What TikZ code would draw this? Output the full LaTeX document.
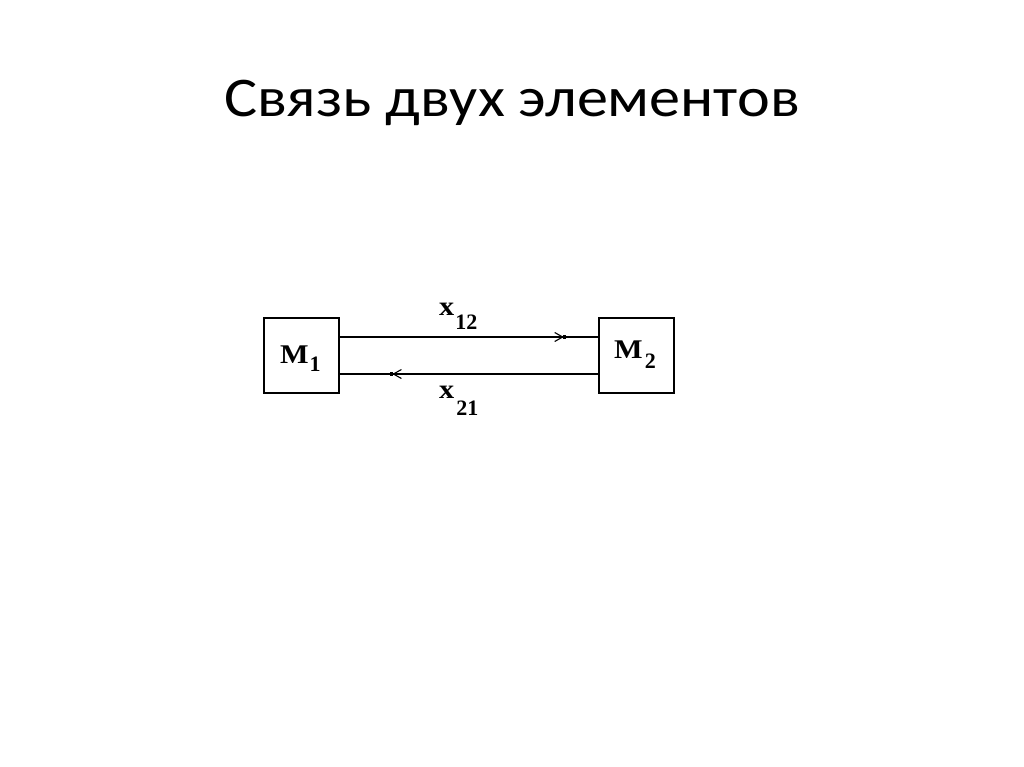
\documentclass[tikz,border=0pt]{standalone}
\usepackage{fontspec}
\usepackage{graphicx}
\setmainfont{Liberation Serif}
\newfontfamily\titlefont{Carlito}
\usetikzlibrary{arrows.meta,decorations.markings}
\newcommand{\mainlet}[1]{\scalebox{1.12}[1]{\fontsize{27}{28}\selectfont\bfseries #1}}
\newcommand{\sublet}[2]{\raisebox{-#1pt}{\fontsize{22}{22}\selectfont\bfseries #2}}
\begin{document}
\begin{tikzpicture}[x=1pt,y=-1pt,
  blk/.style={draw,line width=1.4pt,minimum width=75pt,minimum height=75pt,inner sep=0pt},
  lbl/.style={inner sep=0pt},
  flow/.style={line width=1.4pt,
    decoration={markings,mark=at position #1 with {\fill (-2pt,-1.8pt) rectangle (1.5pt,1.8pt);\draw[line width=1.1pt] (-2pt,0)--(-10pt,-4.5pt) (-2pt,0)--(-10pt,4.5pt);}},
    postaction={decorate}}]
\useasboundingbox (0,0) rectangle (1024,767);
\fill[white] (0,0) rectangle (1024,767);
\node[font=\titlefont\fontsize{56}{60}\selectfont,anchor=base,xscale=1.11,transform shape] (title) at (512,117) {Связь двух элементов};
\node[blk] (m1) at (301.5,355.5) {};
\node[blk] (m2) at (636.5,355.5) {};
\node[lbl,anchor=base west] (t1) at (280,363) {\mainlet{M}\kern1pt\sublet{8}{1}};
\node[lbl,anchor=base west] (t2) at (614,358) {\mainlet{M}\kern2pt\sublet{10}{2}};
\coordinate (a1) at (m1.east |- 0,337);
\coordinate (b1) at (m2.west |- 0,337);
\coordinate (a2) at (m2.west |- 0,374);
\coordinate (b2) at (m1.east |- 0,374);
\draw[flow=0.87] (a1) -- (b1);
\draw[flow=0.80] (a2) -- (b2);
\node[lbl,anchor=base west] (x12) at (439,315) {\mainlet{x}\kern1pt\sublet{14}{12}};
\node[lbl,anchor=base west] (x21) at (439,398) {\mainlet{x}\kern2pt\sublet{17}{21}};
\end{tikzpicture}
\end{document}
